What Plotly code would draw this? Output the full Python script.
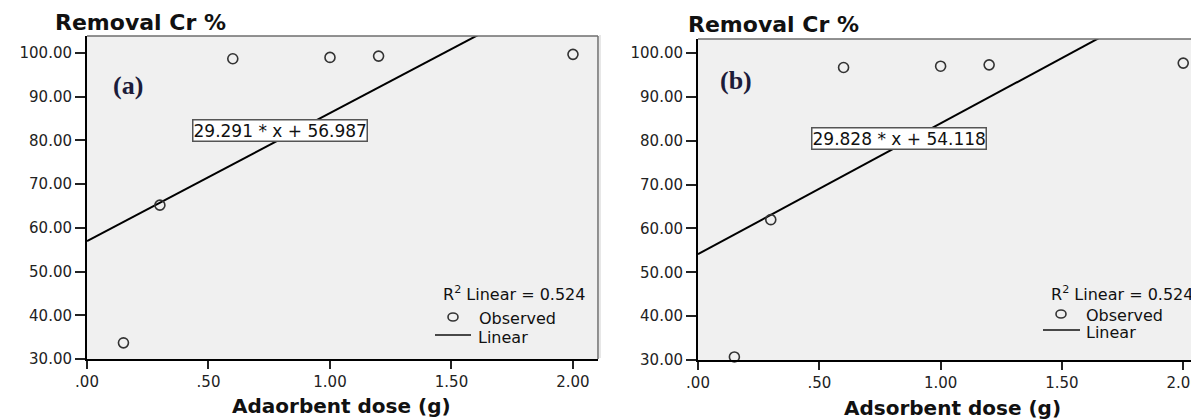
import plotly.graph_objects as go

# ---- data ----
dose = [0.15, 0.30, 0.60, 1.00, 1.20, 2.00]
removal_a = [33.7, 65.2, 98.7, 99.0, 99.3, 99.7]
removal_b = [30.7, 62.0, 96.7, 97.0, 97.3, 97.7]
slope_a, icpt_a = 29.291, 56.987
slope_b, icpt_b = 29.828, 54.118
r2_a, r2_b = 0.524, 0.524
xtick_vals = [0, 0.5, 1.0, 1.5, 2.0]
xtick_text = [".00", ".50", "1.00", "1.50", "2.00"]
ytick_vals = [30, 40, 50, 60, 70, 80, 90, 100]
ytick_text = ["30.00", "40.00", "50.00", "60.00", "70.00", "80.00", "90.00", "100.00"]
panel_labels = ["(a)", "(b)"]
y_title = "Removal Cr %"
x_titles = ["Adaorbent dose (g)", "Adsorbent dose (g)"]

OFF = 8  # page body margin
W, H = 1199 - OFF, 419 - OFF
def px(x): return (x - OFF) / W
def py(y): return 1 - (y - OFF) / H

fig = go.Figure()

fit_x = [0, 2.2]
for i, (ys, s, c) in enumerate([(removal_a, slope_a, icpt_a), (removal_b, slope_b, icpt_b)]):
    xa = "x" if i == 0 else "x2"
    ya = "y" if i == 0 else "y2"
    fig.add_trace(go.Scatter(x=fit_x, y=[s * v + c for v in fit_x], mode="lines",
                             line=dict(color="black", width=2), xaxis=xa, yaxis=ya,
                             showlegend=False, hoverinfo="skip"))
    fig.add_trace(go.Scatter(x=dose, y=ys, mode="markers",
                             marker=dict(symbol="circle-open", size=10,
                                         line=dict(color="#333", width=1.6), color="#333"),
                             xaxis=xa, yaxis=ya, showlegend=False, cliponaxis=False))

axis_common = dict(showgrid=False, zeroline=False, showline=True, linecolor="black", linewidth=2,
                   ticks="outside", tickwidth=2, tickcolor="#222", automargin=False,
                   ticklabeloverflow="allow",
                   tickfont=dict(family="DejaVu Sans", size=15, color="#222"))

fig.update_layout(
    width=W, height=H, margin=dict(l=0, r=0, t=0, b=0, autoexpand=False),
    paper_bgcolor="white", plot_bgcolor="#f0f0f0",
    xaxis=dict(domain=[px(87), px(598)], range=[0, 2.103], tickvals=xtick_vals, ticktext=xtick_text,
               anchor="y", ticklen=8, **axis_common),
    yaxis=dict(domain=[py(359), py(36)], range=[30, 103.9], tickvals=ytick_vals, ticktext=ytick_text,
               anchor="x", ticklen=10, **axis_common),
    xaxis2=dict(domain=[px(698), 1.0], range=[0, 2.065], tickvals=xtick_vals, ticktext=xtick_text,
                anchor="y2", ticklen=8, **axis_common),
    yaxis2=dict(domain=[py(360), py(39)], range=[30, 103.2], tickvals=ytick_vals, ticktext=ytick_text,
                anchor="x2", ticklen=10, **axis_common),
)

shapes = []
annotations = []
panels = [
    dict(xs="x", ys="y", title_x=140, title_y=23, xt_x=341, xt_y=406, lab_x=128, lab_y=85,
         eq=(280, 130), r2=(587, 293), circ=(453, 317), obs=(477, 318), line=(435, 471, 335), lin=(476, 337),
         slope=slope_a, icpt=icpt_a, r2v=r2_a),
    dict(xs="x2", ys="y2", title_x=773, title_y=25, xt_x=952, xt_y=408, lab_x=736, lab_y=80,
         eq=(899, 138), r2=(1195, 293), circ=(1061, 314), obs=(1084, 315), line=(1043, 1080, 330), lin=(1084, 332),
         slope=slope_b, icpt=icpt_b, r2v=r2_b),
]
txt = dict(family="DejaVu Sans", size=16, color="#111")
for i, p in enumerate(panels):
    xd = p["xs"] + " domain"
    yd = p["ys"] + " domain"
    shapes.append(dict(type="line", xref=xd, yref=yd, x0=0, x1=1, y0=1, y1=1,
                       line=dict(color="#6e6e6e", width=1.5)))
    shapes.append(dict(type="line", xref=xd, yref=yd, x0=1, x1=1, y0=0, y1=1,
                       line=dict(color="#6e6e6e", width=1.5)))
    annotations.append(dict(text="<b>" + y_title + "</b>", xref="paper", yref="paper",
                            x=px(p["title_x"]), y=py(p["title_y"]), xanchor="center", yanchor="middle",
                            showarrow=False, font=dict(family="DejaVu Sans", size=22, color="#111")))
    annotations.append(dict(text="<b>" + x_titles[i] + "</b>", xref="paper", yref="paper",
                            x=px(p["xt_x"]), y=py(p["xt_y"]), xanchor="center", yanchor="middle",
                            showarrow=False, font=dict(family="DejaVu Sans", size=20, color="#111")))
    annotations.append(dict(text="<b>" + panel_labels[i] + "</b>", xref="paper", yref="paper",
                            x=px(p["lab_x"]), y=py(p["lab_y"]), xanchor="center", yanchor="middle",
                            showarrow=False, font=dict(family="Liberation Serif", size=26, color="#1c1c3a")))
    annotations.append(dict(text=f"{p['slope']:.3f} * x + {p['icpt']:.3f}", xref="paper", yref="paper",
                            x=px(p["eq"][0]), y=py(p["eq"][1]), xanchor="center", yanchor="middle",
                            showarrow=False, font=dict(family="DejaVu Sans", size=17, color="#111"),
                            bgcolor="white", bordercolor="#555", borderwidth=1.5, borderpad=0))
    annotations.append(dict(text=f"R<sup>2</sup> Linear = {p['r2v']:.3f}", xref="paper", yref="paper",
                            x=px(p["r2"][0]), y=py(p["r2"][1]), xanchor="right", yanchor="middle",
                            showarrow=False, font=txt))
    annotations.append(dict(text="Observed", xref="paper", yref="paper",
                            x=px(p["obs"][0]), y=py(p["obs"][1]), xanchor="left", yanchor="middle",
                            showarrow=False, font=txt))
    annotations.append(dict(text="Linear", xref="paper", yref="paper",
                            x=px(p["lin"][0]), y=py(p["lin"][1]), xanchor="left", yanchor="middle",
                            showarrow=False, font=txt))
    cx, cy = p["circ"]
    shapes.append(dict(type="circle", xref="paper", yref="paper",
                       x0=px(cx - 5), x1=px(cx + 5), y0=py(cy + 4), y1=py(cy - 4),
                       line=dict(color="#333", width=1.6)))
    lx0, lx1, ly = p["line"]
    shapes.append(dict(type="line", xref="paper", yref="paper",
                       x0=px(lx0), x1=px(lx1), y0=py(ly), y1=py(ly),
                       line=dict(color="#111", width=1.6)))

shapes.append(dict(type="line", xref="paper", yref="paper", x0=px(600), x1=px(600),
                   y0=py(35), y1=py(358), line=dict(color="#cfcfcf", width=1)))

fig.update_layout(shapes=shapes, annotations=annotations)
fig.write_html("out.html")
